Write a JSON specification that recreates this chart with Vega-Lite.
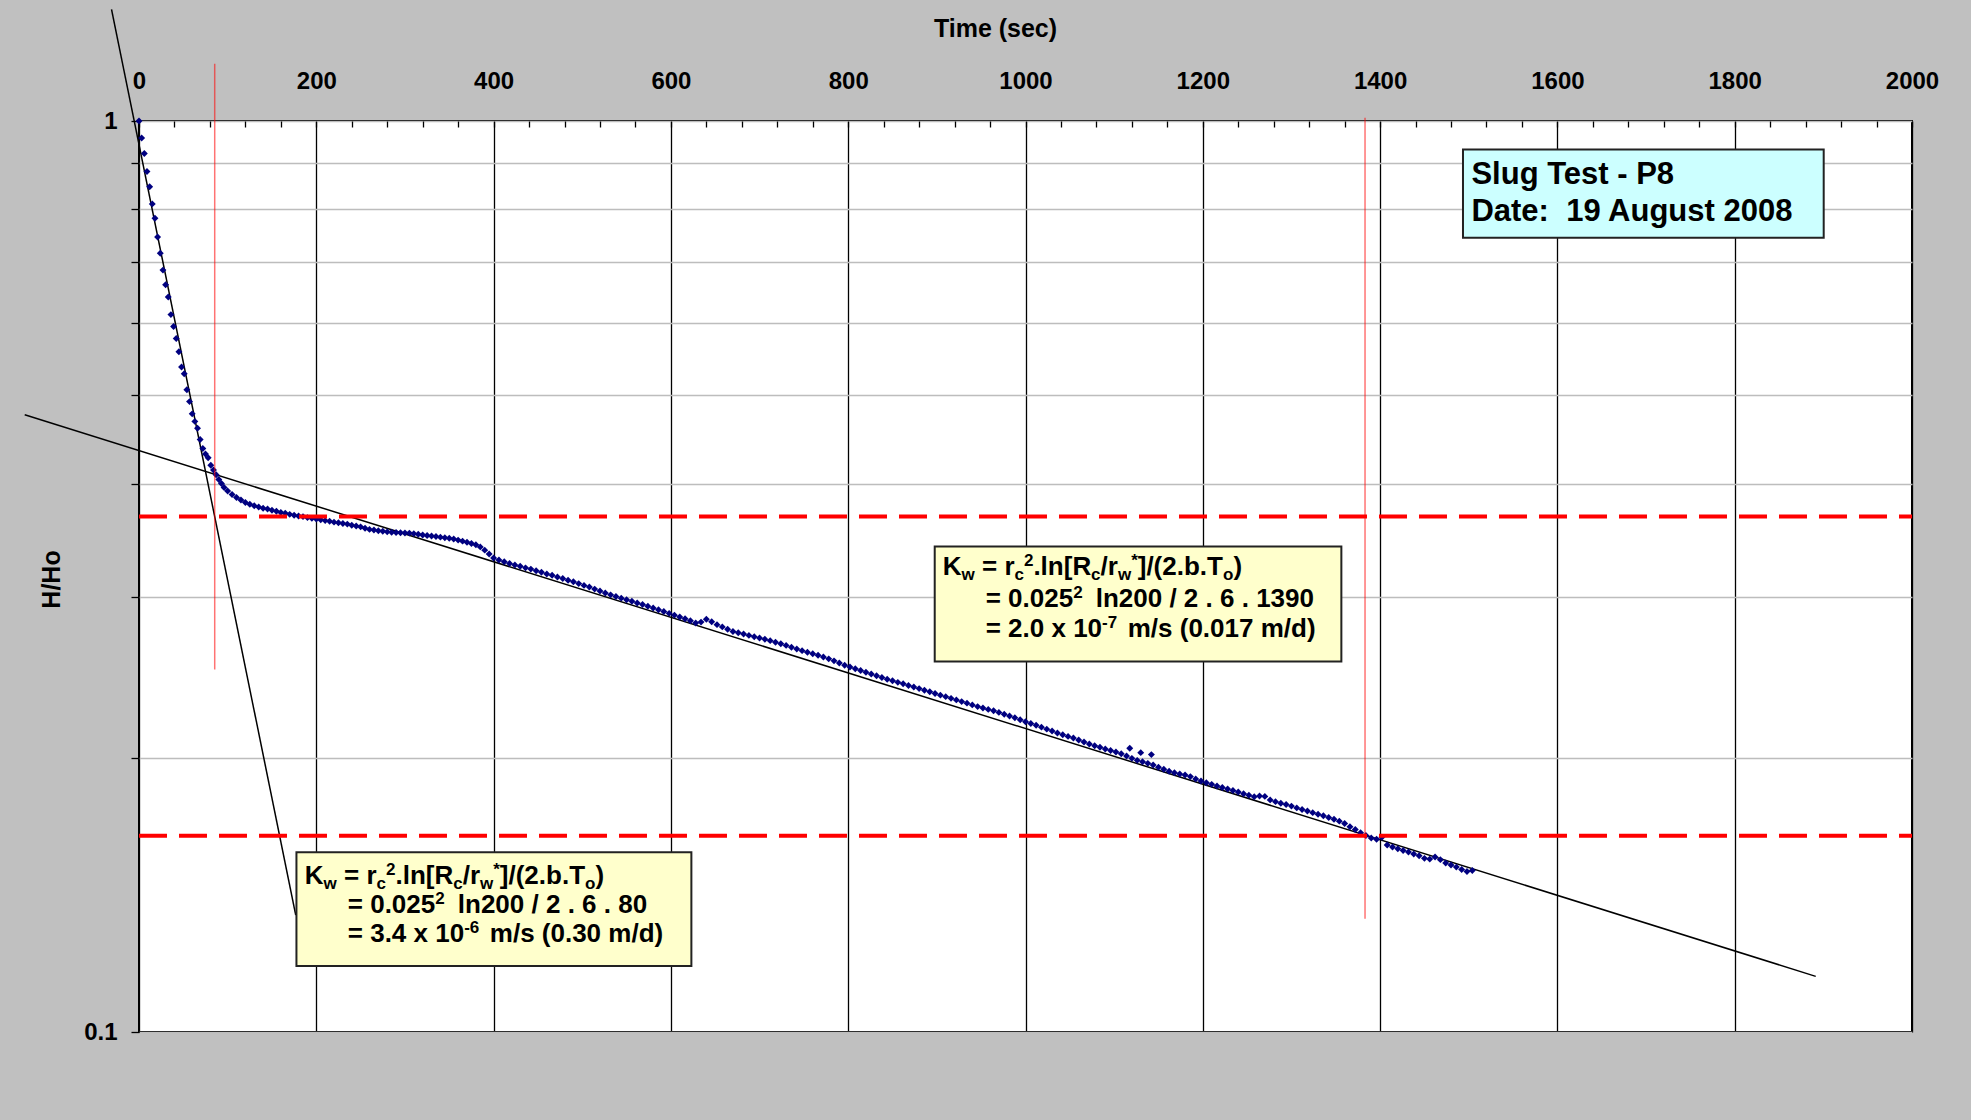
{
 "$schema": "https://vega.github.io/schema/vega-lite/v6.json",
 "width": 1773,
 "height": 911,
 "autosize": {"type": "none"},
 "padding": {"left": 139, "top": 121, "right": 59, "bottom": 88},
 "background": "#C0C0C0",
 "config": {"font": "Liberation Sans", "view": {"fill": "white", "stroke": "black", "strokeWidth": 2}},
 "datasets": {
  "fits": [
   {"line": "steep", "t": -31, "h": 1.326}, {"line": "steep", "t": 176.8, "h": 0.1344},
   {"line": "shallow", "t": -128.9, "h": 0.476}, {"line": "shallow", "t": 1891.4, "h": 0.1151}
  ],
  "vlines": [{"t": 85.4, "h1": 1.156, "h2": 0.25}, {"t": 1383, "h1": 1.008, "h2": 0.1331}],
  "hlines": [{"h": 0.3679, "t1": 0, "t2": 2000}, {"h": 0.1642, "t1": 0, "t2": 2000}],
  "boxes": [
   {"box": "slug", "t1": 1493.5, "t2": 1900.4, "h1": 0.93047, "h2": 0.74424},
   {"box": "k1", "t1": 897.6, "t2": 1356.3, "h1": 0.34113, "h2": 0.25506},
   {"box": "k2", "t1": 177.6, "t2": 623.1, "h1": 0.15752, "h2": 0.11815}
  ],
  "notes": [
   {"kind": "big", "s": "Slug Test - P8", "t": 1503.0, "h": 0.85186},
   {"kind": "big", "s": "Date:\u00a0 19 August 2008", "t": 1503.0, "h": 0.77587},
   {"kind": "main", "s": "K", "t": 906.6, "h": 0.31761},
   {"kind": "sub", "s": "w", "t": 927.8, "h": 0.31761},
   {"kind": "main", "s": "= r", "t": 950.9, "h": 0.31761},
   {"kind": "sub", "s": "c", "t": 987.6, "h": 0.31761},
   {"kind": "sup", "s": "2", "t": 998.2, "h": 0.31761},
   {"kind": "main", "s": ".ln[R", "t": 1008.9, "h": 0.31761},
   {"kind": "sub", "s": "c", "t": 1074.0, "h": 0.31761},
   {"kind": "main", "s": "/r", "t": 1084.7, "h": 0.31761},
   {"kind": "sub", "s": "w", "t": 1104.3, "h": 0.31761},
   {"kind": "sup", "s": "*", "t": 1119.2, "h": 0.31761},
   {"kind": "main", "s": "]/(2.b.T", "t": 1126.6, "h": 0.31761},
   {"kind": "sub", "s": "o", "t": 1222.8, "h": 0.31761},
   {"kind": "main", "s": ")", "t": 1234.5, "h": 0.31761},
   {"kind": "main", "s": "= 0.025", "t": 955.1, "h": 0.29299},
   {"kind": "sup", "s": "2", "t": 1053.8, "h": 0.29299},
   {"kind": "main", "s": "ln200 / 2 . 6 . 1390", "t": 1079.2, "h": 0.29299},
   {"kind": "main", "s": "= 2.0 x 10", "t": 955.1, "h": 0.27155},
   {"kind": "sup", "s": "-7", "t": 1086.4, "h": 0.27155},
   {"kind": "main", "s": "m/s (0.017 m/d)", "t": 1115.3, "h": 0.27155},
   {"kind": "main", "s": "K", "t": 187.0, "h": 0.14543},
   {"kind": "sub", "s": "w", "t": 208.2, "h": 0.14543},
   {"kind": "main", "s": "= r", "t": 231.3, "h": 0.14543},
   {"kind": "sub", "s": "c", "t": 268.0, "h": 0.14543},
   {"kind": "sup", "s": "2", "t": 278.6, "h": 0.14543},
   {"kind": "main", "s": ".ln[R", "t": 289.3, "h": 0.14543},
   {"kind": "sub", "s": "c", "t": 354.4, "h": 0.14543},
   {"kind": "main", "s": "/r", "t": 365.1, "h": 0.14543},
   {"kind": "sub", "s": "w", "t": 384.7, "h": 0.14543},
   {"kind": "sup", "s": "*", "t": 399.6, "h": 0.14543},
   {"kind": "main", "s": "]/(2.b.T", "t": 407.0, "h": 0.14543},
   {"kind": "sub", "s": "o", "t": 503.2, "h": 0.14543},
   {"kind": "main", "s": ")", "t": 514.9, "h": 0.14543},
   {"kind": "main", "s": "= 0.025", "t": 235.5, "h": 0.13509},
   {"kind": "sup", "s": "2", "t": 334.2, "h": 0.13509},
   {"kind": "main", "s": "ln200 / 2 . 6 . 80", "t": 359.6, "h": 0.13509},
   {"kind": "main", "s": "= 3.4 x 10", "t": 235.5, "h": 0.12554},
   {"kind": "sup", "s": "-6", "t": 366.8, "h": 0.12554},
   {"kind": "main", "s": "m/s (0.30 m/d)", "t": 395.7, "h": 0.12554}
  ],
  "pts": [
   {"t":0,"h":1.000},{"t":3,"h":0.958},{"t":6,"h":0.921},{"t":9,"h":0.880},{"t":12,"h":0.847},{"t":15,"h":0.811},{"t":18,"h":0.782},{"t":21,"h":0.746},{"t":24,"h":0.716},{"t":27,"h":0.686},{"t":30,"h":0.661},{"t":33,"h":0.641},{"t":36,"h":0.613},{"t":39,"h":0.595},{"t":42,"h":0.577},{"t":45,"h":0.558},{"t":48,"h":0.537},{"t":51,"h":0.528},{"t":54,"h":0.507},{"t":57,"h":0.492},{"t":60,"h":0.477},{"t":63,"h":0.468},{"t":66,"h":0.460},{"t":69,"h":0.447},{"t":72,"h":0.437},{"t":75,"h":0.431},{"t":78,"h":0.427},{"t":81,"h":0.419},{"t":84,"h":0.414},{"t":87,"h":0.409},{"t":90,"h":0.404},{"t":93,"h":0.400},{"t":96,"h":0.396},
   {"t":100,"h":0.3925},{"t":105,"h":0.3890},{"t":110,"h":0.3861},{"t":115,"h":0.3836},{"t":120,"h":0.3812},{"t":125,"h":0.3795},{"t":130,"h":0.3781},{"t":135,"h":0.3770},{"t":140,"h":0.3758},{"t":145,"h":0.3750},{"t":150,"h":0.3738},{"t":155,"h":0.3730},{"t":160,"h":0.3718},{"t":165,"h":0.3710},{"t":170,"h":0.3700},{"t":175,"h":0.3692},{"t":180,"h":0.3684},{"t":185,"h":0.3679},{"t":190,"h":0.3670},{"t":195,"h":0.3663},{"t":200,"h":0.3656},{"t":205,"h":0.3650},{"t":210,"h":0.3642},{"t":215,"h":0.3636},{"t":220,"h":0.3628},{"t":225,"h":0.3623},{"t":230,"h":0.3615},{"t":235,"h":0.3610},{"t":240,"h":0.3600},{"t":245,"h":0.3592},{"t":250,"h":0.3585},{"t":255,"h":0.3572},{"t":260,"h":0.3562},{"t":265,"h":0.3556},{"t":270,"h":0.3550},{"t":275,"h":0.3546},{"t":280,"h":0.3540},{"t":285,"h":0.3536},{"t":290,"h":0.3534},{"t":295,"h":0.3532},{"t":300,"h":0.3530},{"t":305,"h":0.3529},{"t":310,"h":0.3524},{"t":315,"h":0.3518},{"t":320,"h":0.3512},{"t":325,"h":0.3507},{"t":330,"h":0.3503},{"t":335,"h":0.3498},{"t":340,"h":0.3493},{"t":345,"h":0.3488},{"t":350,"h":0.3483},{"t":355,"h":0.3476},{"t":360,"h":0.3467},{"t":365,"h":0.3458},{"t":370,"h":0.3448},{"t":375,"h":0.3438},{"t":380,"h":0.3426},{"t":385,"h":0.3408},{"t":390,"h":0.3380},{"t":395,"h":0.3348},
   {"t":400,"h":0.3313},{"t":406,"h":0.3297},{"t":412,"h":0.3283},{"t":418,"h":0.3268},{"t":424,"h":0.3256},{"t":430,"h":0.3245},{"t":436,"h":0.3232},{"t":442,"h":0.3222},{"t":448,"h":0.3208},{"t":454,"h":0.3196},{"t":460,"h":0.3183},{"t":466,"h":0.3172},{"t":472,"h":0.3158},{"t":478,"h":0.3146},{"t":484,"h":0.3133},{"t":490,"h":0.3120},{"t":496,"h":0.3106},{"t":502,"h":0.3092},{"t":508,"h":0.3079},{"t":514,"h":0.3063},{"t":520,"h":0.3048},{"t":526,"h":0.3033},{"t":532,"h":0.3019},{"t":538,"h":0.3006},{"t":544,"h":0.2994},{"t":550,"h":0.2982},{"t":556,"h":0.2970},{"t":562,"h":0.2958},{"t":568,"h":0.2946},{"t":574,"h":0.2933},{"t":580,"h":0.2920},{"t":586,"h":0.2907},{"t":592,"h":0.2894},{"t":598,"h":0.2881},{"t":604,"h":0.2868},{"t":610,"h":0.2855},{"t":616,"h":0.2842},{"t":622,"h":0.2828},{"t":628,"h":0.2812},{"t":634,"h":0.2818},{"t":640,"h":0.2838},{"t":646,"h":0.2820},{"t":652,"h":0.2800},{"t":658,"h":0.2784},{"t":664,"h":0.2768},{"t":670,"h":0.2752},{"t":676,"h":0.2743},{"t":682,"h":0.2734},{"t":688,"h":0.2725},{"t":694,"h":0.2716},{"t":700,"h":0.2707},{"t":706,"h":0.2699},{"t":712,"h":0.2689},{"t":718,"h":0.2678},{"t":724,"h":0.2668},{"t":730,"h":0.2657},{"t":736,"h":0.2645},{"t":742,"h":0.2633},{"t":748,"h":0.2622},{"t":754,"h":0.2611},{"t":760,"h":0.2601},{"t":766,"h":0.2591},{"t":772,"h":0.2580},{"t":778,"h":0.2568},{"t":784,"h":0.2555},{"t":790,"h":0.2541},{"t":796,"h":0.2527},{"t":802,"h":0.2516},{"t":808,"h":0.2505},{"t":814,"h":0.2494},{"t":820,"h":0.2483},{"t":826,"h":0.2472},{"t":832,"h":0.2461},{"t":838,"h":0.2450},{"t":844,"h":0.2439},{"t":850,"h":0.2430},{"t":856,"h":0.2420},{"t":862,"h":0.2411},{"t":868,"h":0.2401},{"t":874,"h":0.2392},{"t":880,"h":0.2382},{"t":886,"h":0.2372},{"t":892,"h":0.2363},{"t":898,"h":0.2353},{"t":904,"h":0.2343},{"t":910,"h":0.2334},{"t":916,"h":0.2324},{"t":922,"h":0.2315},{"t":928,"h":0.2305},{"t":934,"h":0.2296},{"t":940,"h":0.2286},{"t":946,"h":0.2276},{"t":952,"h":0.2268},{"t":958,"h":0.2260},{"t":964,"h":0.2252},{"t":970,"h":0.2243},{"t":976,"h":0.2233},{"t":982,"h":0.2223},{"t":988,"h":0.2213},{"t":994,"h":0.2202},{"t":1000,"h":0.2191},{"t":1006,"h":0.2181},{"t":1012,"h":0.2171},{"t":1018,"h":0.2161},{"t":1024,"h":0.2150},{"t":1030,"h":0.2140},{"t":1036,"h":0.2129},{"t":1042,"h":0.2120},{"t":1048,"h":0.2111},{"t":1054,"h":0.2102},{"t":1060,"h":0.2092},{"t":1066,"h":0.2081},{"t":1072,"h":0.2071},{"t":1078,"h":0.2062},{"t":1084,"h":0.2054},{"t":1090,"h":0.2045},{"t":1096,"h":0.2037},{"t":1102,"h":0.2029},{"t":1108,"h":0.2020},{"t":1114,"h":0.2009},{"t":1117.6,"h":0.2049},{"t":1120,"h":0.1997},{"t":1126,"h":0.1987},{"t":1130,"h":0.2026},{"t":1132,"h":0.1980},{"t":1138,"h":0.1972},{"t":1142,"h":0.2016},{"t":1144,"h":0.1964},{"t":1150,"h":0.1953},{"t":1156,"h":0.1943},{"t":1162,"h":0.1933},{"t":1168,"h":0.1926},{"t":1174,"h":0.1920},{"t":1180,"h":0.1915},{"t":1186,"h":0.1907},{"t":1192,"h":0.1896},{"t":1198,"h":0.1886},{"t":1204,"h":0.1878},{"t":1210,"h":0.1870},{"t":1216,"h":0.1862},{"t":1222,"h":0.1855},{"t":1228,"h":0.1848},{"t":1234,"h":0.1841},{"t":1240,"h":0.1834},{"t":1246,"h":0.1826},{"t":1252,"h":0.1819},{"t":1258,"h":0.1812},{"t":1264,"h":0.1816},{"t":1270,"h":0.1814},{"t":1276,"h":0.1798},{"t":1282,"h":0.1790},{"t":1288,"h":0.1783},{"t":1294,"h":0.1777},{"t":1300,"h":0.1770},{"t":1306,"h":0.1762},{"t":1312,"h":0.1755},{"t":1318,"h":0.1748},{"t":1324,"h":0.1741},{"t":1330,"h":0.1734},{"t":1336,"h":0.1727},{"t":1342,"h":0.1720},{"t":1348,"h":0.1712},{"t":1354,"h":0.1704},{"t":1360,"h":0.1694},{"t":1366,"h":0.1680},{"t":1372,"h":0.1668},{"t":1378,"h":0.1655},{"t":1384,"h":0.1643},{"t":1390,"h":0.1633},{"t":1396,"h":0.1628},{"t":1402,"h":0.1636},{"t":1408,"h":0.1604},{"t":1414,"h":0.1596},{"t":1420,"h":0.1589},{"t":1426,"h":0.1582},{"t":1432,"h":0.1576},{"t":1438,"h":0.1568},{"t":1444,"h":0.1561},{"t":1450,"h":0.1551},{"t":1456,"h":0.1548},{"t":1462,"h":0.1556},{"t":1468,"h":0.1546},{"t":1474,"h":0.1533},{"t":1480,"h":0.1525},{"t":1486,"h":0.1517},{"t":1492,"h":0.1508},{"t":1498,"h":0.1500},{"t":1504,"h":0.1504}
  ]
 },
 "layer": [
  {
   "data": {"name": "fits"},
   "mark": {"type": "line", "color": "black", "strokeWidth": 1.5},
   "encoding": {
    "x": {"field": "t", "type": "quantitative", "title": "Time (sec)",
     "scale": {"domain": [0, 2000], "nice": false, "zero": false},
     "axis": {
      "orient": "top",
      "tickCount": 200,
      "values": [0,40,80,120,160,200,240,280,320,360,400,440,480,520,560,600,640,680,720,760,800,840,880,920,960,1000,1040,1080,1120,1160,1200,1240,1280,1320,1360,1400,1440,1480,1520,1560,1600,1640,1680,1720,1760,1800,1840,1880,1920,1960,2000],
      "labelExpr": "datum.value % 200 === 0 ? format(datum.value, 'd') : ''",
      "labelFont": "Liberation Sans", "labelFontSize": 24, "labelFontWeight": "bold", "labelColor": "black",
      "labelBaseline": "alphabetic", "labelPadding": 39, "labelFlush": false, "labelOverlap": false,
      "domain": false,
      "grid": true, "gridColor": "black", "gridWidth": 1.3,
      "gridOpacity": {"condition": {"test": "datum.value % 200 === 0", "value": 1}, "value": 0},
      "ticks": true, "tickSize": -6, "tickColor": "black", "tickWidth": 1.3,
      "titleFont": "Liberation Sans", "titleFontSize": 25, "titleFontWeight": "bold", "titleColor": "black",
      "titleX": 856, "titleY": -85, "titleAlign": "center", "titleBaseline": "alphabetic"
     }
    },
    "y": {"field": "h", "type": "quantitative", "title": "H/Ho",
     "scale": {"type": "log", "domain": [0.1, 1], "nice": false},
     "axis": {
      "tickCount": 100,
      "values": [0.1,0.2,0.3,0.4,0.5,0.6,0.7,0.8,0.9,1],
      "labelExpr": "datum.value === 1 ? '1' : (datum.value === 0.1 ? '0.1' : '')",
      "labelFont": "Liberation Sans", "labelFontSize": 24, "labelFontWeight": "bold", "labelColor": "black",
      "labelPadding": 14, "labelOverlap": false, "labelFlush": false,
      "domain": false,
      "grid": true, "gridColor": "#BDBDBD", "gridWidth": 1.5,
      "ticks": true, "tickSize": 8, "tickColor": "black", "tickWidth": 1.3,
      "titleFont": "Liberation Sans", "titleFontSize": 25, "titleFontWeight": "bold", "titleColor": "black",
      "titleAngle": -90, "titleX": -88, "titleY": 458, "titleAlign": "center", "titleBaseline": "middle"
     }
    },
    "detail": {"field": "line"}
   }
  },
  {
   "data": {"name": "pts"},
   "mark": {"type": "point", "filled": true, "shape": "diamond", "size": 48, "color": "#000080", "opacity": 1},
   "encoding": {
    "x": {"field": "t", "type": "quantitative", "title": "Time (sec)"},
    "y": {"field": "h", "type": "quantitative", "title": "H/Ho"}
   }
  },
  {
   "data": {"name": "hlines"},
   "mark": {"type": "rule", "color": "#FF0000", "strokeWidth": 4, "strokeDash": [28, 12]},
   "encoding": {
    "x": {"field": "t1", "type": "quantitative", "title": "Time (sec)"},
    "x2": {"field": "t2"},
    "y": {"field": "h", "type": "quantitative", "title": "H/Ho"}
   }
  },
  {
   "data": {"name": "vlines"},
   "mark": {"type": "rule", "color": "#FF0000", "strokeWidth": 1.5, "opacity": 0.55},
   "encoding": {
    "x": {"field": "t", "type": "quantitative", "title": "Time (sec)"},
    "y": {"field": "h1", "type": "quantitative", "title": "H/Ho"},
    "y2": {"field": "h2"}
   }
  },
  {
   "data": {"name": "boxes"},
   "mark": {"type": "rect", "stroke": "#222222", "strokeWidth": 2, "opacity": 1},
   "encoding": {
    "x": {"field": "t1", "type": "quantitative", "title": "Time (sec)"},
    "x2": {"field": "t2"},
    "y": {"field": "h1", "type": "quantitative", "title": "H/Ho"},
    "y2": {"field": "h2"},
    "color": {"field": "box", "type": "nominal", "legend": null,
     "scale": {"domain": ["slug", "k1", "k2"], "range": ["#CCFFFF", "#FFFFCC", "#FFFFCC"]}}
   }
  },
  {
   "data": {"name": "notes"},
   "transform": [{"filter": "datum.kind === 'big'"}],
   "mark": {"type": "text", "align": "left", "baseline": "alphabetic", "font": "Liberation Sans", "fontWeight": "bold", "fontSize": 31, "color": "black"},
   "encoding": {
    "x": {"field": "t", "type": "quantitative", "title": "Time (sec)"},
    "y": {"field": "h", "type": "quantitative", "title": "H/Ho"},
    "text": {"field": "s"}
   }
  },
  {
   "data": {"name": "notes"},
   "transform": [{"filter": "datum.kind === 'main'"}],
   "mark": {"type": "text", "align": "left", "baseline": "alphabetic", "font": "Liberation Sans", "fontWeight": "bold", "fontSize": 26, "color": "black"},
   "encoding": {
    "x": {"field": "t", "type": "quantitative", "title": "Time (sec)"},
    "y": {"field": "h", "type": "quantitative", "title": "H/Ho"},
    "text": {"field": "s"}
   }
  },
  {
   "data": {"name": "notes"},
   "transform": [{"filter": "datum.kind === 'sub'"}],
   "mark": {"type": "text", "align": "left", "baseline": "alphabetic", "font": "Liberation Sans", "fontWeight": "bold", "fontSize": 17, "dy": 5, "color": "black"},
   "encoding": {
    "x": {"field": "t", "type": "quantitative", "title": "Time (sec)"},
    "y": {"field": "h", "type": "quantitative", "title": "H/Ho"},
    "text": {"field": "s"}
   }
  },
  {
   "data": {"name": "notes"},
   "transform": [{"filter": "datum.kind === 'sup'"}],
   "mark": {"type": "text", "align": "left", "baseline": "alphabetic", "font": "Liberation Sans", "fontWeight": "bold", "fontSize": 17, "dy": -9, "color": "black"},
   "encoding": {
    "x": {"field": "t", "type": "quantitative", "title": "Time (sec)"},
    "y": {"field": "h", "type": "quantitative", "title": "H/Ho"},
    "text": {"field": "s"}
   }
  }
 ]
}
